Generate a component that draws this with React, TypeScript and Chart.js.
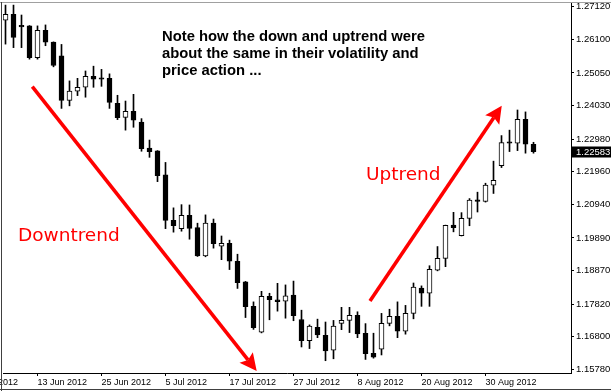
import { useEffect, useRef } from 'react';
import { Chart, registerables } from 'chart.js';

Chart.register(...registerables);

// Daily candles, 7 Jun 2012 .. 7 Sep 2012
const opens = [
  1.2670, 1.2688, 1.2653, 1.2652, 1.2553, 1.2638, 1.2601, 1.2558, 1.2419, 1.2448,
  1.2460, 1.2494, 1.2489, 1.2488, 1.2410, 1.2366, 1.2385, 1.2351, 1.2270, 1.2261,
  1.2186, 1.2044, 1.2018, 1.2060, 1.2021, 1.1933, 1.2035, 1.1963, 1.1972, 1.1916,
  1.1852, 1.1775, 1.1694, 1.1806, 1.1795, 1.1791, 1.1810, 1.1734, 1.1668, 1.1709,
  1.1684, 1.1638, 1.1722, 1.1731, 1.1747, 1.1691, 1.1628, 1.1641, 1.1722, 1.1744,
  1.1697, 1.1753, 1.1832, 1.1816, 1.1888, 1.1925, 1.2029, 1.1996, 1.2050, 1.2108,
  1.2103, 1.2154, 1.2215, 1.2289, 1.2285, 1.2360, 1.2282,
];
const highs = [
  1.2717, 1.2717, 1.2686, 1.2653, 1.2652, 1.2655, 1.2602, 1.2594, 1.2480, 1.2488,
  1.2511, 1.2526, 1.2516, 1.2502, 1.2435, 1.2417, 1.2438, 1.2362, 1.2295, 1.2262,
  1.2225, 1.2083, 1.2093, 1.2092, 1.2035, 1.2061, 1.2048, 1.1995, 1.1982, 1.1938,
  1.1853, 1.1789, 1.1822, 1.1816, 1.1847, 1.1842, 1.1854, 1.1763, 1.1717, 1.1735,
  1.1726, 1.1731, 1.1772, 1.1772, 1.1758, 1.1721, 1.1691, 1.1753, 1.1766, 1.1789,
  1.1778, 1.1848, 1.1839, 1.1902, 1.1962, 1.2029, 1.2069, 1.2068, 1.2112, 1.2132,
  1.2160, 1.2229, 1.2309, 1.2326, 1.2389, 1.2383, 1.2288,
];
const lows = [
  1.2595, 1.2584, 1.2584, 1.2548, 1.2548, 1.2590, 1.2524, 1.2394, 1.2402, 1.2434,
  1.2429, 1.2460, 1.2463, 1.2394, 1.2359, 1.2326, 1.2335, 1.2260, 1.2241, 1.2165,
  1.2018, 1.2007, 1.2010, 1.1985, 1.1931, 1.1930, 1.1957, 1.1921, 1.1890, 1.1831,
  1.1740, 1.1703, 1.1692, 1.1733, 1.1760, 1.1738, 1.1730, 1.1648, 1.1643, 1.1677,
  1.1605, 1.1611, 1.1702, 1.1693, 1.1677, 1.1609, 1.1613, 1.1623, 1.1714, 1.1677,
  1.1688, 1.1736, 1.1775, 1.1775, 1.1886, 1.1899, 1.2008, 1.1995, 1.2027, 1.2070,
  1.2101, 1.2128, 1.2209, 1.2259, 1.2262, 1.2254, 1.2254,
];
const closes = [
  1.2688, 1.2616, 1.2649, 1.2553, 1.2638, 1.2601, 1.2528, 1.2419, 1.2448, 1.2460,
  1.2494, 1.2485, 1.2485, 1.2413, 1.2365, 1.2385, 1.2357, 1.2268, 1.2259, 1.2184,
  1.2044, 1.2027, 1.2060, 1.2019, 1.1933, 1.2035, 1.1971, 1.1972, 1.1916, 1.1849,
  1.1774, 1.1708, 1.1806, 1.1796, 1.1790, 1.1808, 1.1746, 1.1668, 1.1713, 1.1686,
  1.1636, 1.1713, 1.1731, 1.1747, 1.1689, 1.1627, 1.1616, 1.1722, 1.1744, 1.1697,
  1.1753, 1.1835, 1.1816, 1.1891, 1.1925, 1.2028, 1.2021, 1.2050, 1.2107, 1.2103,
  1.2154, 1.2169, 1.2287, 1.2285, 1.2360, 1.2282, 1.22583,
];

const dateTickIndex = [-4, 4, 12, 20, 28, 36, 44, 52, 60];
const dateTickLabels = [
  '1 Jun 2012', '13 Jun 2012', '25 Jun 2012', '5 Jul 2012', '17 Jul 2012',
  '27 Jul 2012', '8 Aug 2012', '20 Aug 2012', '30 Aug 2012',
];
const priceTicks = [
  1.1578, 1.168, 1.1782, 1.1887, 1.1989, 1.2094, 1.2196, 1.2298, 1.2403, 1.2505, 1.261, 1.2712,
];
const noteLines = [
  'Note how the down and uptrend were',
  'about the same in their volatility and',
  'price action ...',
];
const downLabel = 'Downtrend';
const upLabel = 'Uptrend';
// arrows in data coordinates: [candle index, price]
const downArrowFrom = [3.35, 1.2462];
const downArrowTo = [31.4, 1.1573];
const upArrowFrom = [45.56, 1.1792];
const upArrowTo = [62.03, 1.2402];

const X_MIN = -0.3125;
const X_MAX = X_MIN + 71;
const Y_MAX = 1.272357;
const Y_MIN = 1.156658;

function drawArrow(ctx: CanvasRenderingContext2D, x1: number, y1: number, x2: number, y2: number) {
  const dx = x2 - x1;
  const dy = y2 - y1;
  const len = Math.hypot(dx, dy);
  const ux = dx / len;
  const uy = dy / len;
  const headLen = 17;
  const headW = 8.5;
  const notch = 3;
  const bx = x2 - ux * headLen;
  const by = y2 - uy * headLen;
  const nx = x2 - ux * (headLen - notch);
  const ny = y2 - uy * (headLen - notch);
  ctx.save();
  ctx.strokeStyle = '#ff0000';
  ctx.fillStyle = '#ff0000';
  ctx.lineWidth = 3.6;
  ctx.beginPath();
  ctx.moveTo(x1, y1);
  ctx.lineTo(nx, ny);
  ctx.stroke();
  ctx.beginPath();
  ctx.moveTo(x2, y2);
  ctx.lineTo(bx - uy * headW, by + ux * headW);
  ctx.lineTo(nx, ny);
  ctx.lineTo(bx + uy * headW, by - ux * headW);
  ctx.closePath();
  ctx.fill();
  ctx.restore();
}

const overlayPlugin = {
  id: 'overlay',
  afterDraw(chart: any) {
    const ctx: CanvasRenderingContext2D = chart.ctx;
    const xs = chart.scales.x;
    const ys = chart.scales.y;
    const W = chart.width;
    const H = chart.height;
    ctx.save();
    // window frame
    ctx.fillStyle = '#a0a0a0';
    ctx.fillRect(0, 2, W, 1);
    ctx.fillStyle = '#404040';
    ctx.fillRect(1, 2, 1, H - 2);
    ctx.fillRect(0, H - 2, W, 1);

    // note text
    ctx.fillStyle = '#000';
    ctx.font = 'bold 14.8px "Liberation Sans", Arial, sans-serif';
    ctx.textBaseline = 'alphabetic';
    ctx.textAlign = 'left';
    noteLines.forEach((t, i) => ctx.fillText(t, 162, 40.5 + i * 17));

    // trend labels
    ctx.fillStyle = '#ff0000';
    ctx.font = '18.5px "DejaVu Sans", sans-serif';
    ctx.fillText(downLabel, 18, 240.5);
    ctx.fillText(upLabel, 366, 180);

    // arrows
    drawArrow(ctx, xs.getPixelForValue(downArrowFrom[0]), ys.getPixelForValue(downArrowFrom[1]),
      xs.getPixelForValue(downArrowTo[0]), ys.getPixelForValue(downArrowTo[1]));
    drawArrow(ctx, xs.getPixelForValue(upArrowFrom[0]), ys.getPixelForValue(upArrowFrom[1]),
      xs.getPixelForValue(upArrowTo[0]), ys.getPixelForValue(upArrowTo[1]));

    // current price label
    const last = closes[closes.length - 1];
    const py = ys.getPixelForValue(last);
    ctx.fillStyle = '#000';
    ctx.fillRect(chart.chartArea.right, Math.round(py) - 5.5, W - chart.chartArea.right, 11);
    ctx.fillStyle = '#fff';
    ctx.font = '9.5px "Liberation Sans", Arial, sans-serif';
    ctx.textBaseline = 'middle';
    ctx.fillText(last.toFixed(5), chart.chartArea.right + 5, Math.round(py) + 0.5);
    ctx.restore();
  },
};

export default function App() {
  const ref = useRef<HTMLCanvasElement>(null);
  useEffect(() => {
    const idx = opens.map((_, i) => i);
    const chart = new Chart(ref.current as HTMLCanvasElement, {
      type: 'bar',
      data: {
        datasets: [
          {
            label: 'body',
            data: idx.map((i) => ({ x: i, y: [opens[i], closes[i]] })) as any,
            backgroundColor: idx.map((i) => (closes[i] >= opens[i] ? '#ffffff' : '#000000')),
            borderColor: '#000000',
            borderWidth: 1,
            borderSkipped: false,
            barThickness: 5,
            minBarLength: 1.5,
            grouped: false,
            order: 0,
          } as any,
          {
            label: 'wick',
            data: idx.map((i) => ({ x: i, y: [lows[i], highs[i]] })) as any,
            backgroundColor: '#000000',
            borderWidth: 0,
            barThickness: 1,
            grouped: false,
            order: 1,
          } as any,
        ],
      },
      options: {
        animation: false,
        responsive: false,
        devicePixelRatio: 1,
        layout: { padding: { left: 3, top: 3, right: 0, bottom: 0 } },
        plugins: { legend: { display: false }, tooltip: { enabled: false } },
        scales: {
          x: {
            type: 'linear',
            position: 'bottom',
            offset: false,
            bounds: 'data',
            min: X_MIN,
            max: X_MAX,
            afterBuildTicks: (s: any) => {
              s.ticks = dateTickIndex.map((v) => ({ value: v }));
            },
            afterFit: (s: any) => {
              s.height = 18;
              s.paddingLeft = 0;
              s.paddingRight = 0;
            },
            ticks: {
              autoSkip: false,
              maxRotation: 0,
              minRotation: 0,
              align: 'start',
              padding: 1,
              color: '#000',
              font: { family: '"Liberation Sans", Arial, sans-serif', size: 9 },
              callback: (v: any) => {
                const k = dateTickIndex.indexOf(Number(v));
                return k >= 0 ? dateTickLabels[k] : '';
              },
            },
            grid: { offset: false, drawOnChartArea: false, drawTicks: true, tickLength: 3, color: '#000' },
            border: { color: '#000', width: 1 },
          } as any,
          y: {
            type: 'linear',
            position: 'right',
            bounds: 'data',
            min: Y_MIN,
            max: Y_MAX,
            afterBuildTicks: (s: any) => {
              s.ticks = priceTicks.map((v) => ({ value: v }));
            },
            afterFit: (s: any) => {
              s.width = 40;
              s.paddingTop = 0;
              s.paddingBottom = 0;
            },
            ticks: {
              padding: 2,
              color: '#000',
              font: { family: '"Liberation Sans", Arial, sans-serif', size: 9.5 },
              callback: (v: any) => Number(v).toFixed(5),
            },
            grid: { drawOnChartArea: false, drawTicks: true, tickLength: 3, color: '#000' },
            border: { color: '#000', width: 1 },
          } as any,
        },
      },
      plugins: [overlayPlugin],
    });
    return () => chart.destroy();
  }, []);
  return (
    <div style={{ position: 'fixed', left: 0, top: 0, width: 611, height: 391, background: '#fff' }}>
      <canvas ref={ref} width={611} height={391} style={{ display: 'block', width: 611, height: 391 }} />
    </div>
  );
}
